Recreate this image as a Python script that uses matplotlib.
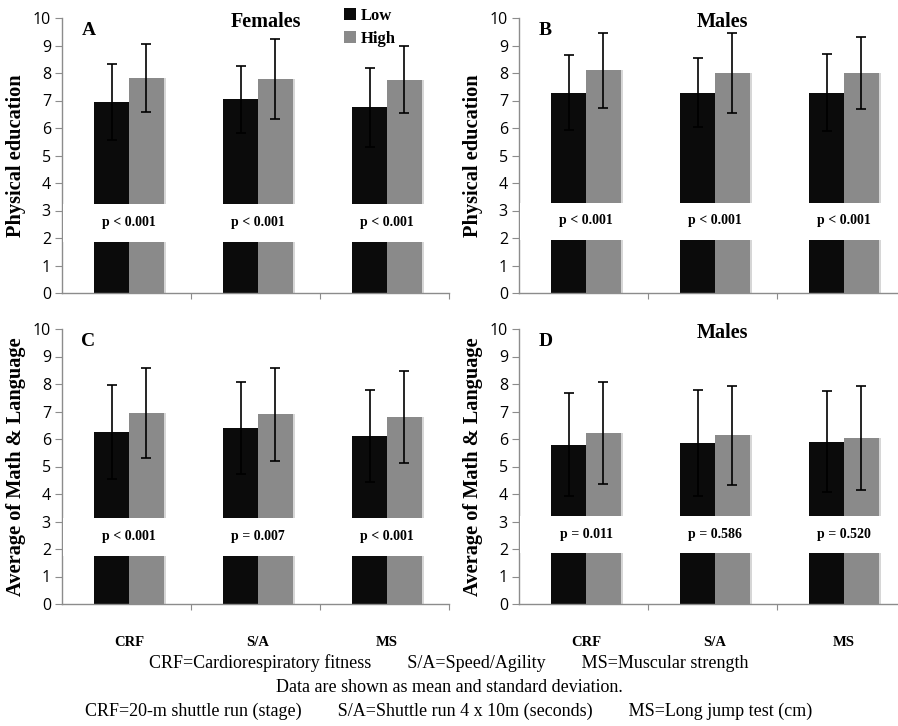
import matplotlib
matplotlib.use("Agg")
import matplotlib.pyplot as plt
import matplotlib.patches as patches
import numpy as np

# Data (means and SD)
categories = ["CRF", "S/A", "MS"]

pe_f_low = [6.95, 7.05, 6.75]
pe_f_low_sd = [1.38, 1.22, 1.43]
pe_f_high = [7.82, 7.78, 7.75]
pe_f_high_sd = [1.24, 1.45, 1.22]
pe_f_p = ["p < 0.001", "p < 0.001", "p < 0.001"]

pe_m_low = [7.28, 7.28, 7.28]
pe_m_low_sd = [1.36, 1.25, 1.40]
pe_m_high = [8.10, 8.00, 8.00]
pe_m_high_sd = [1.37, 1.44, 1.30]
pe_m_p = ["p < 0.001", "p < 0.001", "p < 0.001"]

ml_f_low = [6.25, 6.40, 6.10]
ml_f_low_sd = [1.72, 1.68, 1.68]
ml_f_high = [6.95, 6.90, 6.80]
ml_f_high_sd = [1.64, 1.69, 1.67]
ml_f_p = ["p < 0.001", "p = 0.007", "p < 0.001"]

ml_m_low = [5.80, 5.85, 5.90]
ml_m_low_sd = [1.87, 1.93, 1.83]
ml_m_high = [6.23, 6.13, 6.05]
ml_m_high_sd = [1.86, 1.80, 1.89]
ml_m_p = ["p = 0.011", "p = 0.586", "p = 0.520"]

BLACK = "#0b0b0b"
GRAY = "#8a8a8a"
SPINE = "#8c8c8c"
SERIF = "Liberation Serif"
SANS = "Open Sans"

fig = plt.figure(figsize=(8.98, 7.26), dpi=100, facecolor="white")

W = 387 / 898
H = 275 / 726
panels = [
    # left, bottom, letter, title, ylabel, low, low_sd, high, high_sd, p, band, xlabels, legend
    (62 / 898, 1 - 293 / 726, "A", "Females", "Physical education",
     pe_f_low, pe_f_low_sd, pe_f_high, pe_f_high_sd, pe_f_p, (1.85, 3.25), False, True),
    (519 / 898, 1 - 293 / 726, "B", "Males", "Physical education",
     pe_m_low, pe_m_low_sd, pe_m_high, pe_m_high_sd, pe_m_p, (1.92, 3.28), False, False),
    (62 / 898, 1 - 604 / 726, "C", "", "Average of Math & Language",
     ml_f_low, ml_f_low_sd, ml_f_high, ml_f_high_sd, ml_f_p, (1.75, 3.12), True, False),
    (519 / 898, 1 - 604 / 726, "D", "Males", "Average of Math & Language",
     ml_m_low, ml_m_low_sd, ml_m_high, ml_m_high_sd, ml_m_p, (1.84, 3.2), True, False),
]

bw = 0.27
for (left, bottom, letter, title, ylabel, low, low_sd, high, high_sd,
     pvals, band, xlabels, legend) in panels:
    ax = fig.add_axes([left, bottom, W, H])
    x = np.arange(len(categories)) + 0.52

    # soft shadow at the right side of the bars
    ax.bar(x - bw / 2 + 0.02, low, bw, color="#d6d6d6", zorder=1)
    ax.bar(x + bw / 2 + 0.02, high, bw, color="#d6d6d6", zorder=1)
    ax.bar(x - bw / 2, low, bw, color=BLACK, zorder=2, label="Low")
    ax.bar(x + bw / 2, high, bw, color=GRAY, zorder=2, label="High")
    ax.errorbar(x - bw / 2, low, yerr=low_sd, fmt="none", ecolor="black",
                elinewidth=1.2, capsize=3.5, capthick=1.2, zorder=4)
    ax.errorbar(x + bw / 2, high, yerr=high_sd, fmt="none", ecolor="black",
                elinewidth=1.2, capsize=3.5, capthick=1.2, zorder=4)

    # white break band holding the p-values
    ax.add_patch(patches.Rectangle((0.01, band[0]), 2.99, band[1] - band[0],
                                   facecolor="white", edgecolor="none", zorder=3))
    for xi, p in zip(x, pvals):
        ax.text(xi, (band[0] + band[1]) / 2 + 0.02, p, ha="center", va="center",
                family=SERIF, fontweight="bold", fontsize=10, zorder=5)

    ax.set_xlim(0, 3)
    ax.set_ylim(0, 10)
    ax.set_yticks(range(0, 11))
    ax.set_xticks([1, 2, 3])
    ax.set_xticklabels([])
    ax.tick_params(axis="x", direction="out", length=4, color=SPINE)
    ax.tick_params(axis="y", direction="out", length=5, color=SPINE,
                   labelsize=11.5, pad=3)
    for lab in ax.get_yticklabels():
        lab.set_family(SANS)
    for s in ["top", "right"]:
        ax.spines[s].set_visible(False)
    for s in ["left", "bottom"]:
        ax.spines[s].set_color(SPINE)
        ax.spines[s].set_linewidth(1)

    if xlabels:
        ax.set_xticks(x, minor=True)
        ax.set_xticklabels(categories, minor=True, family=SERIF,
                           fontweight="bold", fontsize=10.5)
        ax.tick_params(axis="x", which="minor", length=0, pad=23)

    ax.set_ylabel(ylabel, family=SERIF, fontweight="bold", fontsize=14.7,
                  labelpad=5)
    ax.text(0.15, 9.55, letter, family=SERIF, fontweight="bold", fontsize=14,
            ha="left", va="center")
    if title:
        ax.text(1.58, 9.85, title, family=SERIF, fontweight="bold",
                fontsize=14.5, ha="center", va="center")
    if legend:
        ax.legend(loc="upper right", bbox_to_anchor=(0.88, 1.06), frameon=False,
                  prop={"family": SERIF, "weight": "bold", "size": 12},
                  handlelength=0.7, handleheight=0.7, handletextpad=0.3,
                  labelspacing=0.4, borderaxespad=0)

notes = [
    "CRF=Cardiorespiratory fitness        S/A=Speed/Agility        MS=Muscular strength",
    "Data are shown as mean and standard deviation.",
    "CRF=20-m shuttle run (stage)        S/A=Shuttle run 4 x 10m (seconds)        MS=Long jump test (cm)",
]
for i, t in enumerate(notes):
    fig.text(0.5, 1 - (663 + 24 * i) / 726, t, ha="center", va="center",
             family=SERIF, fontsize=13)

fig.savefig("out.png", dpi=100, facecolor="white")
